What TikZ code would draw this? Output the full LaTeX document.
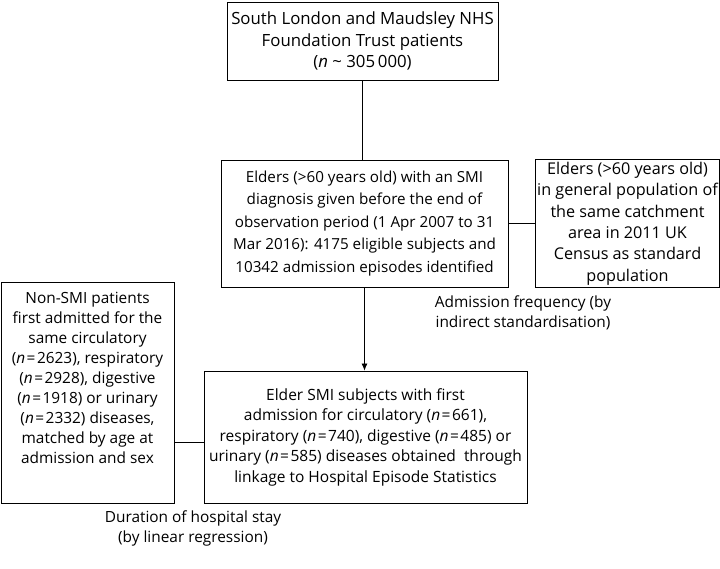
\documentclass[tikz,border=0pt]{standalone}
\usepackage{fontspec}
\setmainfont{Open Sans}
\usetikzlibrary{arrows.meta,calc}
\newcommand{\nn}{\textit{n}\kern1.5pt=\kern1.5pt}
\begin{document}
\begin{tikzpicture}[x=1pt,y=1pt,
  box/.style={draw,line width=0.8pt,rectangle,align=center,inner sep=2pt},
  lbl/.style={align=center,inner sep=0pt},
  conn/.style={line width=0.8pt},
  arr/.style={line width=0.8pt,-{Latex[length=7pt,width=6pt]}}]
\useasboundingbox (0,0) rectangle (720,568);
\node[box,minimum width=271pt,minimum height=78pt,font=\fontsize{16.8}{21.5}\selectfont] (top) at (362.5,527) {South London and Maudsley NHS\\Foundation Trust patients\\(\textit{n} \textasciitilde{} 305\,000)};
\node[box,minimum width=287pt,minimum height=127pt,font=\fontsize{15.2}{22.5}\selectfont] (mid) at (364.5,344.5) {Elders (>60 years old) with an SMI\\diagnosis given before the end of\\observation period (1 Apr 2007 to 31\\Mar 2016): 4175 eligible subjects and\\10342 admission episodes identified};
\node[box,minimum width=181pt,minimum height=127pt,font=\fontsize{16.2}{21.4}\selectfont] (right) at (627.5,344.5) {Elders (>60 years old)\\in general population of\\the same catchment\\area in 2011 UK\\Census as standard\\population};
\node[box,minimum width=323pt,minimum height=132pt,font=\fontsize{15.5}{20.5}\selectfont] (bot) at (365.5,131) {Elder SMI subjects with first\\admission for circulatory (\nn661),\\respiratory (\nn740), digestive (\nn485) or\\urinary (\nn585) diseases obtained\ \ through\\linkage to Hospital Episode Statistics};
\node[box,minimum width=173pt,minimum height=221pt] (left) at (87.5,175.5) {};
\node[lbl,font=\fontsize{15.4}{20}\selectfont] (lefttxt) at (87.5,190) {Non-SMI patients\\first admitted for the\\same circulatory\\(\nn2623), respiratory\\(\nn2928), digestive\\(\nn1918) or urinary\\(\nn2332) diseases,\\matched by age at\\admission and sex};
\node[lbl,font=\fontsize{15.4}{20}\selectfont] (lfreq) at (523,255) {Admission frequency (by\\indirect standardisation)};
\node[lbl,font=\fontsize{15.4}{20}\selectfont] (ldur) at (193,40) {Duration of hospital stay\\(by linear regression)};
\draw[conn] (top.south) -- (top.south |- mid.north);
\draw[conn] (mid.east) -- (right.west);
\draw[arr] (mid.south) -- (mid.south |- bot.north);
\draw[conn] ([yshift=-5pt]bot.west) -- ([yshift=-5pt]bot.west -| left.east);
\end{tikzpicture}
\end{document}
